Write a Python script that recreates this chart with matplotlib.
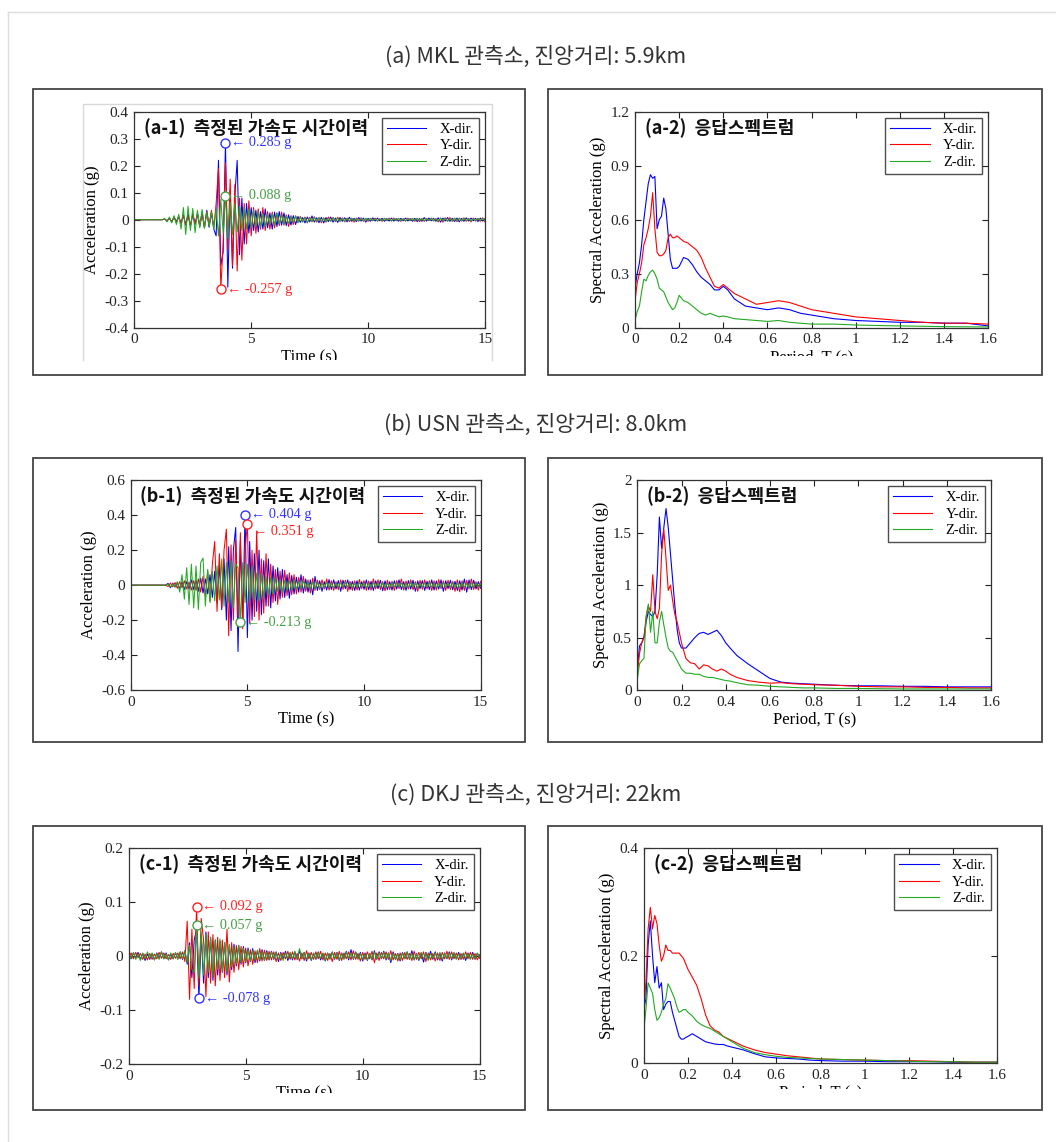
import numpy as np
import matplotlib
matplotlib.use('Agg')
import matplotlib.pyplot as plt
from matplotlib.patches import Rectangle
from matplotlib.lines import Line2D
from matplotlib.transforms import Bbox
from matplotlib.ticker import FuncFormatter

# ---------------- data ----------------
section_titles = ["(a) MKL 관측소, 진앙거리: 5.9km",
                  "(b) USN 관측소, 진앙거리: 8.0km",
                  "(c) DKJ 관측소, 진앙거리: 22km"]
ts_titles = ["(a-1)  측정된 가속도 시간이력", "(b-1)  측정된 가속도 시간이력", "(c-1)  측정된 가속도 시간이력"]
sp_titles = ["(a-2)  응답스펙트럼", "(b-2)  응답스펙트럼", "(c-2)  응답스펙트럼"]
dir_labels = ["X-dir.", "Y-dir.", "Z-dir."]

time_step = 0.1  # s ; accelerations below in milli-g

acc_a_x = [0]*13 + [3, -5, 6, -8, 10, -7, 12,
    -15, 18, -20, 22, -25, 20, -18, 25, -22, 28,
    -30, 35, -28, 25, -35,
    -60, 220, -170, -120, 285, -250, 110, -180, 90, 220, -130, 80, -90, 60, -50,
    45, -40, 35, -45, 30, -35, 40, -30, 25, -35,
    28, -25, 30, -20, 25, -22, 18, -20, 15, -18,
    12, -10, 8, -12, 10, -8, 14, -9, 7, -11,
    9, -12, 8, -7, 10, -9, 6, -10, 8, -6,
    7, -8, 9, -6, 5, -7, 8, -5, 6, -9,
    5, -6, 7, -5, 6, -4, 5, -6, 4, -5,
    6, -5, 4, -6, 5, -4, 6, -5, 4, -6,
    5, -7, 4, -6, 8, -5, 6, -4, 5, -6,
    7, -9, 6, -5, 8, -6, 5, -7, 6, -8,
    5, -6, 7, -5, 6, -4, 5, -7, 6, -5,
    4]
acc_a_y = [0]*13 + [2, -4, 5, -6, 8, -10, 9,
    -12, 15, -18, 14, -20, 22, -15, 18, -25, 20,
    -28, 30, -22, 35, -30,
    60, 190, -257, -90, 210, -110, 150, -170, 130, -190, 80, -150, 60, -90, 70,
    -60, 45, -50, 40, -35, 45, -40, 30, -35, 28,
    -30, 25, -22, 28, -20, 18, -25, 15, -18, 14,
    -10, 12, -8, 10, -12, 9, -7, 11, -9, 8,
    -11, 7, -9, 10, -6, 8, -7, 9, -5, 7,
    -8, 6, -7, 5, -9, 6, -5, 7, -6, 5,
    -6, 5, -4, 6, -5, 4, -6, 5, -4, 6,
    -5, 6, -4, 5, -6, 4, -5, 6, -4, 5,
    -6, 5, -7, 4, -6, 5, -4, 6, -5, 4,
    -8, 6, -9, 7, -5, 8, -6, 5, -7, 6,
    -5, 7, -6, 5, -8, 6, -5, 4, -6, 7,
    -8]
acc_a_z = [0]*13 + [4, -8, 10, -12, 15, -18, 20,
    -35, 45, -55, 50, -40, 42, -48, 35, -30, 38,
    -32, 28, -25, 30, -35,
    40, -60, 75, -50, 88, -70, 65, -55, 60, -45, 50, -40, 45, -35, 40,
    -30, 35, -25, 30, -28, 22, -25, 20, -18, 22,
    -20, 25, -15, 18, -16, 14, -15, 12, -10, 14,
    -12, 10, -9, 8, -10, 7, -8, 9, -6, 8,
    -7, 6, -8, 5, -6, 7, -5, 6, -7, 5,
    -6, 5, -4, 6, -5, 4, -5, 6, -4, 5,
    -4, 5, -3, 4, -5, 3, -4, 5, -3, 4,
    -5, 4, -3, 5, -4, 3, -5, 4, -3, 5,
    -4, 5, -3, 4, -5, 4, -3, 5, -4, 3,
    -5, 6, -4, 5, -6, 4, -5, 6, -4, 5,
    -4, 5, -3, 4, -5, 3, -4, 5, -3, 4,
    -3]

acc_b_x = [0]*16 + [10, -15, 12, -10,
    15, -20, 18, -25, 20, -22, 30, -25, 28, -35,
    40, -45, 35, -50, 60, -70, 80, -100, 120, -140,
    150, -200, 220, -260, 200, 330, -380, 250, -220, 404,
    -300, 250, -200, 180, -150, 200, -170, 140, -120, 150,
    -130, 110, -90, 100, -80, 90, -70, 60, -75, 55,
    -50, 45, -40, 60, -45, 35, -40, 30, -55, 50,
    -30, 25, -35, 20, -28, 32, -25, 30, -22, 26,
    -35, 28, -20, 30, -25, 22, -30, 25, -28, 20,
    -24, 30, -26, 22, -30, 25, -20, 28, -32, 24,
    -26, 20, -28, 25, -22, 30, -25, 20, -30, 26,
    -22, 28, -35, 24, -20, 26, -30, 22, -25, 30,
    -28, 24, -22, 30, -35, 25, -20, 28, -26, 22,
    -30, 25, -28, 35, -40, 30, -25, 28, -22, 20,
    -18]
acc_b_y = [0]*16 + [-8, 12, -10, 15,
    -18, 20, -15, 25, -22, 18, -28, 25, -30, 35,
    -40, 50, -60, 80, -90, 120, 250, -150, 180, -130,
    200, 320, -290, 230, -200, 260, -180, 300, -250, 200,
    351, -220, 200, -180, 310, -200, 150, -160, 180, -120,
    120, -100, 90, -110, 80, -70, 85, -60, 70, -55,
    60, -50, 45, -40, 50, -35, 30, -45, 40, -30,
    28, -25, 30, -22, 35, -28, 25, -30, 20, -26,
    30, -24, 28, -35, 22, -30, 25, -28, 32, -20,
    26, -30, 24, -28, 35, -22, 30, -25, 20, -32,
    28, -25, 22, -30, 26, -20, 35, -28, 24, -22,
    30, -26, 20, -35, 28, -24, 30, -22, 26, -30,
    25, -28, 32, -20, 24, -30, 28, -25, 22, -35,
    30, -38, 25, -30, 28, -22, 35, -25, 20, -28,
    22]
acc_b_z = [0]*16 + [5, -10, 8, -12,
    20, -40, 60, -80, 100, -110, 120, -130, 110, -140,
    130, 155, -120, 90, -100, 80, -90, 110, -85, 150,
    -120, 130, -100, 140, -130, 120, 100, -213, 130, -100,
    120, -90, 110, -80, 70, -90, 60, -70, 50, -55,
    45, -50, 40, -35, 30, -40, 28, -30, 25, -28,
    30, -25, 22, -20, 25, -18, 20, -22, 18, -20,
    15, -18, 12, -14, 16, -12, 10, -15, 13, -11,
    14, -12, 16, -10, 12, -14, 11, -13, 15, -10,
    12, -15, 10, -12, 14, -11, 13, -10, 12, -14,
    10, -12, 15, -11, 13, -10, 12, -14, 11, -13,
    14, -10, 12, -15, 11, -12, 13, -10, 14, -12,
    12, -14, 10, -13, 15, -11, 12, -10, 14, -12,
    11, -13, 15, -12, 10, -14, 12, -11, 13, -10,
    8]

acc_c_x = [3, -5, 6, -4, 7, -6, 5, -8, 4, -6,
    5, -7, 6, -4, 8, -5, 6, -7, 4, -5,
    6, -5, 8, -6, 10, -15, 25, -40, 30, 50,
    -78, 40, -50, 45, -40, 35, -45, 30, -35, 28,
    -30, 25, -35, 20, -25, 22, -18, 20, -15, 18,
    -12, 15, -10, 14, -12, 10, -9, 12, -8, 10,
    -7, 9, -6, 8, -10, 7, -5, 9, -8, 6,
    -7, 8, -6, 10, -5, 7, -9, 6, -8, 5,
    -6, 8, -7, 5, -9, 6, -5, 8, -6, 7,
    -8, 6, -5, 9, -7, 12, -6, 8, -5, 7,
    -9, 6, -8, 5, -7, 10, -6, 8, -5, 9,
    -7, 6, -12, 8, -6, 5, -9, 7, -5, 8,
    -6, 10, -7, 5, -8, 6, -11, 7, -5, 9,
    -6, 8, -7, 5, -9, 6, -5, 8, -7, 6,
    -5, 7, -6, 5, -8, 6, -5, 7, -6, 5,
    -4]
acc_c_y = [-4, 6, -5, 7, -3, 5, -6, 4, -7, 5,
    -6, 4, -5, 7, -4, 6, -5, 3, -6, 5,
    -4, 6, -5, 8, -10, 65, -80, 50, -60, 92,
    -55, 70, 30, -75, 45, -50, 40, -55, 35, -45,
    30, -40, 50, -48, 25, -30, 20, -25, 18, -20,
    15, -18, 12, -15, 10, -12, 14, -9, 11, -8,
    9, -7, 8, -10, 6, -8, 7, -5, 9, -6,
    8, -7, 5, -9, 6, -8, 10, -5, 7, -6,
    8, -5, 9, -7, 6, -8, 5, -10, 7, -6,
    9, -8, 6, -5, 8, -7, 10, -6, 5, -9,
    7, -6, 8, -5, 9, -12, 6, -8, 7, -5,
    8, -6, 10, -7, 5, -9, 6, -8, 7, -6,
    5, -8, 9, -6, 7, -5, 8, -10, 6, -7,
    5, -9, 6, -8, 7, -5, 9, -6, 8, -5,
    6, -7, 5, -6, 8, -5, 7, -6, 5, -7,
    3]
acc_c_z = [5, -4, 7, -6, 4, -8, 6, -5, 8, -4,
    6, -7, 5, -6, 8, -5, 4, -7, 6, -5,
    7, -6, 8, -5, 10, -12, 20, -25, -30, 57,
    -40, 45, -35, 40, -30, 35, -38, 30, -25, 32,
    -28, 25, -30, 22, -20, 18, -15, 20, -12, 15,
    -10, 12, -9, 10, -8, 11, -7, 9, -8, 7,
    -6, 8, -5, 7, -6, 5, -8, 6, -4, 7,
    -5, 9, -6, 14, -5, 7, -6, 5, -7, 6,
    -5, 7, -4, 6, -8, 5, -6, 7, -5, 6,
    -7, 5, -6, 8, -4, 6, -5, 7, -6, 5,
    -6, 4, -7, 5, -6, 8, -5, 6, -4, 7,
    -5, 6, -8, 5, -6, 4, -7, 6, -5, 8,
    -6, 5, -7, 4, -6, 7, -5, 6, -8, 5,
    -4, 6, -5, 7, -6, 5, -4, 6, -5, 7,
    -6, 4, -5, 6, -4, 5, -6, 4, -5, 6,
    -3]

period = [0.0, 0.01, 0.02, 0.03, 0.04, 0.05, 0.06, 0.07, 0.08, 0.09,
          0.10, 0.11, 0.12, 0.13, 0.14, 0.15, 0.16, 0.17, 0.18, 0.19,
          0.20, 0.22, 0.24, 0.26, 0.28, 0.30, 0.32, 0.34, 0.36, 0.38,
          0.40, 0.42, 0.45, 0.50, 0.55, 0.60, 0.65, 0.70, 0.75, 0.80,
          0.90, 1.0, 1.1, 1.2, 1.3, 1.4, 1.5, 1.6]

sa_a_x = [0.22, 0.30, 0.36, 0.46, 0.60, 0.70, 0.80, 0.85, 0.83, 0.84, 0.55, 0.60, 0.62, 0.72, 0.66, 0.52,
          0.38, 0.33, 0.33, 0.33, 0.34, 0.39, 0.38, 0.35, 0.31, 0.28, 0.26, 0.24, 0.21, 0.21, 0.23, 0.21,
          0.16, 0.12, 0.11, 0.10, 0.11, 0.10, 0.08, 0.07, 0.05, 0.04, 0.035, 0.03, 0.03, 0.025, 0.025, 0.01]
sa_a_y = [0.15, 0.25, 0.30, 0.36, 0.46, 0.50, 0.55, 0.62, 0.75, 0.55, 0.42, 0.40, 0.40, 0.41, 0.43, 0.50,
          0.52, 0.50, 0.50, 0.51, 0.50, 0.48, 0.47, 0.45, 0.43, 0.39, 0.33, 0.28, 0.23, 0.22, 0.24, 0.22,
          0.19, 0.16, 0.13, 0.14, 0.15, 0.14, 0.12, 0.10, 0.08, 0.06, 0.05, 0.04, 0.03, 0.025, 0.025, 0.02]
sa_a_z = [0.04, 0.09, 0.12, 0.20, 0.27, 0.26, 0.29, 0.31, 0.32, 0.30, 0.27, 0.22, 0.21, 0.20, 0.17, 0.14,
          0.12, 0.10, 0.11, 0.14, 0.18, 0.15, 0.14, 0.12, 0.10, 0.08, 0.07, 0.08, 0.07, 0.06, 0.065, 0.06,
          0.05, 0.045, 0.04, 0.035, 0.04, 0.03, 0.025, 0.02, 0.02, 0.015, 0.012, 0.01, 0.008, 0.006, 0.005, 0.004]

sa_b_x = [0.20, 0.42, 0.45, 0.50, 0.65, 0.75, 0.72, 0.70, 0.75, 1.10, 1.65, 1.35, 1.55, 1.73, 1.55, 1.30,
          1.05, 0.80, 0.58, 0.45, 0.40, 0.40, 0.45, 0.50, 0.54, 0.55, 0.53, 0.55, 0.57, 0.52, 0.45, 0.40,
          0.33, 0.25, 0.18, 0.11, 0.075, 0.065, 0.06, 0.055, 0.045, 0.04, 0.04, 0.035, 0.035, 0.03, 0.03, 0.03]
sa_b_y = [0.15, 0.35, 0.45, 0.50, 0.70, 0.80, 0.75, 1.10, 0.75, 0.68, 0.78, 1.30, 1.53, 1.25, 0.95, 1.00,
          0.85, 0.72, 0.65, 0.55, 0.45, 0.30, 0.26, 0.25, 0.20, 0.24, 0.23, 0.20, 0.18, 0.20, 0.18, 0.15,
          0.12, 0.09, 0.075, 0.065, 0.07, 0.06, 0.055, 0.05, 0.045, 0.035, 0.03, 0.03, 0.025, 0.025, 0.02, 0.02]
sa_b_z = [0.10, 0.25, 0.28, 0.30, 0.70, 0.82, 0.55, 0.75, 0.45, 0.45, 0.65, 0.75, 0.62, 0.50, 0.40, 0.37,
          0.36, 0.32, 0.28, 0.24, 0.20, 0.16, 0.16, 0.15, 0.15, 0.13, 0.12, 0.12, 0.11, 0.10, 0.09, 0.085,
          0.07, 0.05, 0.045, 0.035, 0.03, 0.025, 0.02, 0.02, 0.015, 0.015, 0.012, 0.01, 0.01, 0.01, 0.01, 0.01]

sa_c_x = [0.10, 0.12, 0.22, 0.265, 0.20, 0.15, 0.18, 0.14, 0.15, 0.10, 0.11, 0.115, 0.115, 0.095, 0.08, 0.065,
          0.05, 0.045, 0.045, 0.048, 0.05, 0.055, 0.05, 0.045, 0.04, 0.038, 0.036, 0.035, 0.035, 0.032, 0.03, 0.028,
          0.025, 0.018, 0.012, 0.01, 0.009, 0.008, 0.006, 0.005, 0.004, 0.004, 0.003, 0.003, 0.003, 0.002, 0.002, 0.002]
sa_c_y = [0.10, 0.15, 0.25, 0.29, 0.25, 0.275, 0.26, 0.22, 0.19, 0.20, 0.22, 0.21, 0.21, 0.205, 0.205, 0.205,
          0.205, 0.20, 0.195, 0.185, 0.175, 0.16, 0.145, 0.12, 0.09, 0.07, 0.062, 0.058, 0.05, 0.046, 0.042, 0.038,
          0.032, 0.025, 0.02, 0.017, 0.014, 0.012, 0.01, 0.008, 0.007, 0.006, 0.005, 0.005, 0.004, 0.003, 0.002, 0.002]
sa_c_z = [0.06, 0.10, 0.15, 0.14, 0.13, 0.10, 0.08, 0.085, 0.095, 0.11, 0.12, 0.148, 0.14, 0.13, 0.12, 0.105,
          0.095, 0.097, 0.10, 0.10, 0.095, 0.088, 0.078, 0.072, 0.068, 0.065, 0.06, 0.055, 0.05, 0.045, 0.04, 0.035,
          0.028, 0.02, 0.016, 0.013, 0.011, 0.01, 0.009, 0.008, 0.007, 0.006, 0.005, 0.004, 0.003, 0.003, 0.002, 0.002]

ts_ylims = [(-0.4, 0.4), (-0.6, 0.6), (-0.2, 0.2)]
ts_yticks = [[-0.4, -0.3, -0.2, -0.1, 0, 0.1, 0.2, 0.3, 0.4],
             [-0.6, -0.4, -0.2, 0, 0.2, 0.4, 0.6],
             [-0.2, -0.1, 0, 0.1, 0.2]]
sp_ylims = [(0, 1.2), (0, 2), (0, 0.4)]
sp_yticks = [[0, 0.3, 0.6, 0.9, 1.2], [0, 0.5, 1, 1.5, 2], [0, 0.2, 0.4]]
time_ticks = [0, 5, 10, 15]
period_ticks = [0, 0.2, 0.4, 0.6, 0.8, 1, 1.2, 1.4, 1.6]

# which peaks are annotated: (series index, 'max' / 'min')
peak_marks = [[(0, 'max'), (2, 'max'), (1, 'min')],
              [(0, 'max'), (1, 'max'), (2, 'min')],
              [(1, 'max'), (2, 'max'), (0, 'min')]]

# ---------------- style ----------------
colors = ['#0000ff', '#ff0000', '#22aa22']
note_colors = ['#3333ff', '#ff2222', '#44a044']
# small vertical text nudges (in points) for annotation labels that sit close together
note_nudge = {(1, 0): 0.0, (1, 1): -5.5}
SERIF = ['Liberation Serif', 'DejaVu Serif']
KR = ['Noto Sans CJK KR', 'DejaVu Sans']

W, H = 1056, 1142
fig = plt.figure(figsize=(W / 100, H / 100), dpi=100)
fig.patch.set_facecolor('white')


def px_axes(x0, y0, x1, y1):
    return fig.add_axes([x0 / W, 1 - y1 / H, (x1 - x0) / W, (y1 - y0) / H])


def px_rect(x0, y0, x1, y1, **kw):
    fig.add_artist(Rectangle((x0 / W, 1 - y1 / H), (x1 - x0) / W, (y1 - y0) / H,
                             transform=fig.transFigure, fill=False, **kw))


def fmt(v, pos):
    return ('%g' % v)


# outer light frame
fig.add_artist(Line2D([8 / W, 8 / W], [1 - 12 / H, 0], transform=fig.transFigure, color='#dcdcdc', lw=1))
fig.add_artist(Line2D([8 / W, 1], [1 - 12 / H, 1 - 12 / H], transform=fig.transFigure, color='#dcdcdc', lw=1))

title_y = [57, 425, 795]
boxes_y = [(89, 375), (458, 742), (826, 1110)]
ts_axes_px = [(134.3, 111.7, 485.0, 327.7), (130.7, 480.3, 480.7, 690.0), (128.7, 848.3, 479.7, 1064.0)]
sp_axes_px = [(635.0, 111.7, 988.3, 327.7), (637.3, 480.3, 991.0, 690.0), (643.7, 848.3, 997.3, 1063.3)]
label_clip = [360, None, 1093]

acc_sets = [(acc_a_x, acc_a_y, acc_a_z), (acc_b_x, acc_b_y, acc_b_z), (acc_c_x, acc_c_y, acc_c_z)]
sa_sets = [(sa_a_x, sa_a_y, sa_a_z), (sa_b_x, sa_b_y, sa_b_z), (sa_c_x, sa_c_y, sa_c_z)]


def style_axes(ax):
    for s in ax.spines.values():
        s.set_linewidth(0.9)
        s.set_color('#333333')
    ax.tick_params(direction='in', length=4, width=0.8, top=True, right=True,
                   labelsize=11, pad=4, colors='#222222')
    for lab in ax.get_xticklabels() + ax.get_yticklabels():
        lab.set_fontfamily(SERIF)
    ax.xaxis.set_major_formatter(FuncFormatter(fmt))
    ax.yaxis.set_major_formatter(FuncFormatter(fmt))


def add_legend(ax):
    leg = ax.legend(loc='upper right', prop={'family': SERIF, 'size': 10.5}, frameon=True, fancybox=False,
                    edgecolor='#222222', handlelength=2.7, handletextpad=0.9, labelspacing=0.22,
                    borderpad=0.35, borderaxespad=0.4)
    leg.get_frame().set_linewidth(1.0)
    return leg


def clip_label(lbl, ybottom_px):
    bb = Bbox.from_extents(0, H - ybottom_px, W, H)
    lbl.set_clip_box(bb)
    lbl.set_clip_on(True)


for r in range(3):
    fig.text(536 / W, 1 - title_y[r] / H, section_titles[r], ha='center', va='center',
             fontsize=15.5, color='#333333', family=KR)
    yb0, yb1 = boxes_y[r]
    px_rect(33, yb0, 525, yb1, edgecolor='#444444', lw=1.3)
    px_rect(548, yb0, 1042, yb1, edgecolor='#444444', lw=1.3)

    # ---------- time history ----------
    ax = px_axes(*ts_axes_px[r])
    accs = acc_sets[r]
    for k in range(3):
        a = np.array(accs[k]) / 1000.0
        t = np.arange(len(a)) * time_step
        ax.plot(t, a, color=colors[k], lw=0.75, label=dir_labels[k])
    ax.set_xlim(0, 15)
    ax.set_ylim(*ts_ylims[r])
    ax.set_xticks(time_ticks)
    ax.set_yticks(ts_yticks[r])
    style_axes(ax)
    xl = ax.set_xlabel('Time (s)', family=SERIF, fontsize=12, labelpad=2)
    ax.set_ylabel('Acceleration (g)', family=SERIF, fontsize=12, labelpad=3)
    if label_clip[r] is not None:
        clip_label(xl, label_clip[r])
    add_legend(ax)
    ax.text(0.028, 0.925, ts_titles[r], transform=ax.transAxes, ha='left', va='center',
            fontsize=13, fontweight='bold', family=KR, color='#111111')
    for k, mode in peak_marks[r]:
        a = np.array(accs[k]) / 1000.0
        t = np.arange(len(a)) * time_step
        i = int(np.argmax(a)) if mode == 'max' else int(np.argmin(a))
        ax.plot(t[i], a[i], 'o', mfc='white', mec=note_colors[k], ms=6.5, mew=1.0, zorder=5)
        ax.annotate('\u2190 %.3f g' % a[i], xy=(t[i] + 0.25, a[i]), xycoords='data',
                    xytext=(0, note_nudge.get((r, k), 0)), textcoords='offset points',
                    color=note_colors[k], ha='left', va='center',
                    fontsize=10.3, family=SERIF, zorder=6)

    # ---------- response spectrum ----------
    ax2 = px_axes(*sp_axes_px[r])
    for k in range(3):
        ax2.plot(period, sa_sets[r][k], color=colors[k], lw=0.8, label=dir_labels[k])
    ax2.set_xlim(0, 1.6)
    ax2.set_ylim(*sp_ylims[r])
    ax2.set_xticks(period_ticks)
    ax2.set_yticks(sp_yticks[r])
    style_axes(ax2)
    xl2 = ax2.set_xlabel('Period, T (s)', family=SERIF, fontsize=12, labelpad=2)
    ax2.set_ylabel('Spectral Acceleration (g)', family=SERIF, fontsize=12, labelpad=3)
    if label_clip[r] is not None:
        clip_label(xl2, label_clip[r] - 4)
    add_legend(ax2)
    ax2.text(0.028, 0.925, sp_titles[r], transform=ax2.transAxes, ha='left', va='center',
             fontsize=13, fontweight='bold', family=KR, color='#111111')

# faint image frame seen around panel (a-1)
fig.add_artist(Line2D([83 / W, 83 / W, 492 / W, 492 / W], [1 - 360 / H, 1 - 104 / H, 1 - 104 / H, 1 - 360 / H],
                      transform=fig.transFigure, color='#d8d8d8', lw=1))

fig.savefig('out.png', dpi=100)
